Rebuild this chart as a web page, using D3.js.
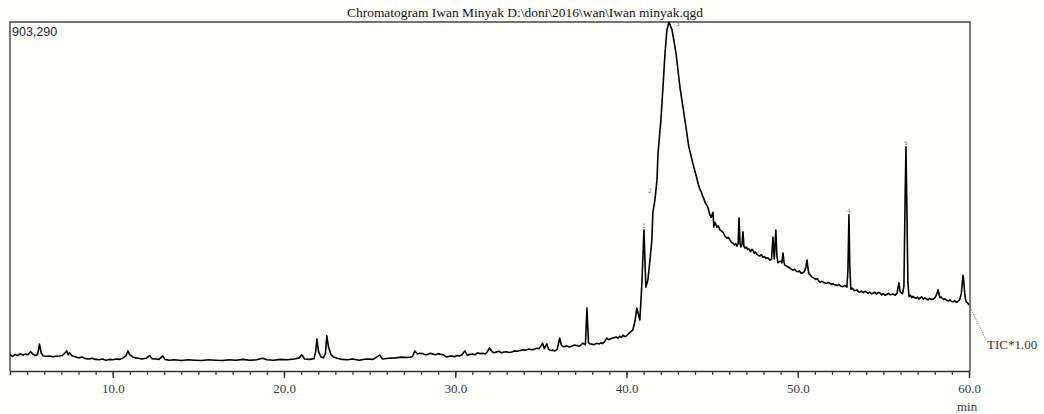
<!DOCTYPE html>
<html>
<head>
<meta charset="utf-8">
<script src="https://cdn.jsdelivr.net/npm/d3@7"></script>
<style>
  body { margin: 0; background: #fffffc; }
  svg { display: block; }
</style>
</head>
<body>
<svg id="chart" width="1044" height="414"></svg>
<script>
// TIC trace: [retention time (min), intensity]
const ticPoints = [
  [4.0,42000],[4.15,38000],[4.3,43000],[4.45,40000],[4.6,45000],[4.75,41000],[4.9,44000],[5.05,42000],
  [5.2,50000],[5.35,43000],[5.5,40000],[5.62,44000],[5.72,70000],[5.82,46000],[5.95,39000],[6.1,38000],
  [6.3,39000],[6.5,37000],[6.7,38000],[6.9,39000],[7.05,40000],[7.2,46000],[7.31,52000],[7.4,42000],
  [7.49,47000],[7.6,40000],[7.8,37000],[8.0,34000],[8.2,36000],[8.4,32000],[8.6,31000],[8.8,33000],
  [9.0,30000],[9.2,29000],[9.4,31000],[9.6,28000],[9.8,30000],[10.0,29000],[10.2,31000],[10.4,30000],
  [10.6,34000],[10.78,40000],[10.88,52000],[11.0,42000],[11.15,37000],[11.3,34000],[11.5,33000],[11.7,31000],
  [11.95,33000],[12.16,40000],[12.3,32000],[12.5,31000],[12.7,30000],[12.92,39000],[13.05,30000],[13.3,28000],
  [13.6,29000],[14.0,27000],[14.4,29000],[14.8,28000],[15.2,27000],[15.6,29000],[16.0,28000],[16.4,27000],
  [16.8,29000],[17.2,28000],[17.6,30000],[18.0,28000],[18.4,29000],[18.75,33000],[19.0,29000],[19.4,28000],
  [19.8,30000],[20.2,29000],[20.6,31000],[20.9,34000],[21.04,42000],[21.2,31000],[21.5,30000],[21.75,32000],
  [21.85,50000],[21.92,83000],[22.02,50000],[22.15,37000],[22.3,34000],[22.42,45000],[22.5,91000],[22.6,62000],
  [22.75,42000],[22.9,36000],[23.1,33000],[23.4,30000],[23.7,29000],[24.0,31000],[24.4,28000],[24.8,31000],
  [25.2,30000],[25.6,41000],[25.75,31000],[26.1,33000],[26.5,34000],[26.9,36000],[27.2,35000],[27.5,37000],
  [27.64,52000],[27.8,44000],[27.95,46000],[28.1,45000],[28.25,42000],[28.4,43000],[28.55,46000],[28.7,44000],
  [28.85,42000],[29.0,45000],[29.15,43000],[29.3,42000],[29.5,36000],[29.65,38000],[29.8,39000],[29.95,37000],
  [30.1,40000],[30.25,39000],[30.4,42000],[30.56,52000],[30.7,41000],[30.85,43000],[31.0,44000],[31.15,42000],
  [31.3,47000],[31.45,45000],[31.6,46000],[31.75,44000],[31.85,48000],[32.0,60000],[32.15,50000],[32.28,47000],
  [32.4,49000],[32.55,51000],[32.7,47000],[32.85,49000],[33.0,50000],[33.15,48000],[33.3,49000],[33.45,52000],
  [33.6,51000],[33.8,53000],[33.95,55000],[34.1,54000],[34.3,57000],[34.45,55000],[34.6,56000],[34.75,59000],
  [34.9,58000],[35.1,72000],[35.2,58000],[35.35,70000],[35.45,56000],[35.58,53000],[35.7,54000],[35.82,52000],
  [35.95,56000],[36.1,85000],[36.2,66000],[36.35,63000],[36.5,65000],[36.65,62000],[36.8,64000],[36.95,67000],
  [37.1,66000],[37.25,64000],[37.35,68000],[37.45,72000],[37.6,68000],[37.69,163000],[37.78,74000],[37.86,70000],
  [37.95,70000],[38.1,68000],[38.25,72000],[38.4,70000],[38.5,73000],[38.6,71000],[38.72,76000],[38.85,85000],
  [38.97,81000],[39.1,84000],[39.25,86000],[39.4,88000],[39.5,85000],[39.6,90000],[39.7,87000],[39.8,93000],
  [39.9,89000],[40.0,91000],[40.1,96000],[40.2,100000],[40.37,106000],[40.5,130000],[40.6,163000],[40.78,132000],
  [40.9,228000],[41.02,365000],[41.13,217000],[41.25,236000],[41.37,287000],[41.48,339000],[41.54,409000],[41.66,443000],
  [41.78,494000],[41.84,564000],[42.01,650000],[42.13,735000],[42.25,823000],[42.36,883000],[42.48,903290],[42.66,883000],
  [42.89,823000],[43.12,735000],[43.41,650000],[43.64,580000],[43.87,538000],[44.1,500000],[44.2,482000],[44.29,470000],
  [44.38,462000],[44.45,452000],[44.52,446000],[44.58,437000],[44.66,431000],[44.75,424000],[44.81,414000],[44.87,404000],
  [44.95,398000],[45.05,411000],[45.1,373000],[45.15,385000],[45.2,382000],[45.28,372000],[45.36,376000],[45.46,365000],
  [45.55,362000],[45.65,358000],[45.75,349000],[45.86,344000],[45.95,346000],[46.05,338000],[46.13,333000],[46.21,331000],
  [46.3,326000],[46.38,330000],[46.45,323000],[46.52,330000],[46.57,396000],[46.63,330000],[46.68,321000],[46.74,326000],
  [46.8,360000],[46.86,322000],[46.92,318000],[47.0,321000],[47.08,314000],[47.15,316000],[47.25,309000],[47.32,315000],
  [47.38,313000],[47.46,305000],[47.53,308000],[47.6,303000],[47.7,299000],[47.79,298000],[47.88,301000],[47.97,294000],
  [48.05,296000],[48.15,291000],[48.25,293000],[48.38,287000],[48.47,290000],[48.55,347000],[48.63,290000],[48.72,365000],
  [48.78,300000],[48.84,280000],[48.92,283000],[49.0,284000],[49.07,280000],[49.14,305000],[49.2,281000],[49.25,274000],
  [49.33,272000],[49.42,270000],[49.5,268000],[49.6,264000],[49.72,261000],[49.82,263000],[49.92,258000],[50.0,257000],
  [50.1,259000],[50.2,253000],[50.3,254000],[50.4,259000],[50.48,270000],[50.54,287000],[50.6,265000],[50.65,252000],
  [50.75,247000],[50.83,243000],[50.93,241000],[51.05,237000],[51.15,239000],[51.22,233000],[51.3,230000],[51.42,232000],
  [51.55,228000],[51.7,227000],[51.82,229000],[51.95,224000],[52.05,226000],[52.17,223000],[52.3,221000],[52.4,224000],
  [52.5,220000],[52.62,218000],[52.75,221000],[52.87,217000],[52.93,260000],[52.99,404000],[53.04,270000],[53.1,212000],
  [53.2,214000],[53.28,209000],[53.35,208000],[53.45,210000],[53.55,205000],[53.63,204000],[53.72,207000],[53.83,203000],
  [53.92,206000],[54.0,205000],[54.1,201000],[54.2,204000],[54.3,200000],[54.4,201000],[54.5,204000],[54.6,199000],
  [54.7,203000],[54.8,202000],[54.9,197000],[55.0,200000],[55.1,196000],[55.2,198000],[55.3,201000],[55.4,197000],
  [55.5,199000],[55.56,199000],[55.7,196000],[55.8,202000],[55.91,228000],[55.98,205000],[56.05,202000],[56.12,200000],
  [56.2,220000],[56.27,450000],[56.32,580000],[56.37,430000],[56.43,230000],[56.5,192000],[56.58,196000],[56.66,190000],
  [56.73,193000],[56.8,190000],[56.9,188000],[57.0,191000],[57.08,186000],[57.14,189000],[57.24,192000],[57.33,186000],
  [57.42,189000],[57.5,187000],[57.6,184000],[57.7,188000],[57.8,185000],[57.9,186000],[57.98,188000],[58.05,192000],
  [58.12,200000],[58.2,210000],[58.26,196000],[58.3,190000],[58.36,192000],[58.42,189000],[58.52,185000],[58.6,187000],
  [58.7,183000],[58.8,181000],[58.9,184000],[58.98,180000],[59.07,179000],[59.15,182000],[59.25,178000],[59.35,180000],
  [59.45,184000],[59.55,200000],[59.65,248000],[59.7,230000],[59.75,200000],[59.8,185000],[59.84,179000],[59.92,176000],
  [60.0,171000]
];

const peakMarks = [
  { t: 41.02, v: 365000, label: "1" },
  { t: 41.54, v: 409000, label: "2" },
  { t: 42.48, v: 903290, label: "3" },
  { t: 52.99, v: 404000, label: "4" },
  { t: 56.32, v: 580000, label: "5" }
];

const majorTicks = [10, 20, 30, 40, 50, 60];
const maxIntensity = 903290;
const titleText = "Chromatogram Iwan Minyak D:\\doni\\2016\\wan\\Iwan minyak.qgd";
const serif = "'Liberation Serif', 'Times New Roman', serif";

const svg = d3.select("#chart");
const plotLeft = 10, plotRight = 969, plotTop = 22, plotBottom = 371;

const x = d3.scaleLinear().domain([4, 60]).range([plotLeft, plotRight]);
const y = d3.scaleLinear().domain([0, maxIntensity]).range([plotBottom, plotTop]);

// title
svg.append("text")
  .attr("x", 347)
  .attr("y", 17)
  .attr("textLength", 356)
  .attr("lengthAdjust", "spacingAndGlyphs")
  .style("font-family", serif)
  .style("font-size", "13px")
  .attr("fill", "#111")
  .text(titleText);

// frame: top, left, right
svg.append("path")
  .attr("d", `M${plotLeft},${plotBottom}V${plotTop}H${plotRight + 1}V${plotBottom}`)
  .attr("fill", "none")
  .attr("stroke", "#444")
  .attr("stroke-width", 1.4);

svg.append("text")
  .attr("x", 12)
  .attr("y", 36)
  .style("font-family", "'Liberation Sans', sans-serif")
  .style("font-size", "12.5px")
  .attr("fill", "#1c1c3a")
  .text("903,290");

// bottom axis, minor ticks every minute, majors with labels
const minorAxis = svg.append("g")
  .attr("transform", `translate(0,${plotBottom})`)
  .call(d3.axisBottom(x).tickValues(d3.range(5, 60)).tickSize(4).tickFormat(""));
minorAxis.select(".domain").attr("stroke", "#333").attr("stroke-width", 1.4);
minorAxis.selectAll(".tick line").attr("stroke", "#333").attr("stroke-width", 1.2);

const majorAxis = svg.append("g")
  .attr("transform", `translate(0,${plotBottom})`)
  .call(d3.axisBottom(x).tickValues(majorTicks).tickSize(7).tickPadding(6).tickFormat(d3.format(".1f")));
majorAxis.select(".domain").remove();
majorAxis.selectAll(".tick line").attr("stroke", "#333").attr("stroke-width", 1.4);
majorAxis.selectAll(".tick text")
  .style("font-family", serif)
  .style("font-size", "13px")
  .attr("fill", "#3a3a3a");

svg.append("text")
  .attr("x", x(60) - 12)
  .attr("y", 411)
  .style("font-family", serif)
  .style("font-size", "13px")
  .attr("fill", "#3a3a3a")
  .text("min");

// trace
const line = d3.line()
  .x((d) => x(d[0]))
  .y((d) => y(d[1]));

svg.append("path")
  .datum(ticPoints)
  .attr("d", line)
  .attr("fill", "none")
  .attr("stroke", "#000")
  .attr("stroke-width", 1.6)
  .attr("stroke-linejoin", "round");

// tiny peak number marks
svg.append("g")
  .selectAll("text")
  .data(peakMarks)
  .join("text")
  .attr("x", (d) => x(d.t) + (d.label === "3" ? 9 : d.label === "2" ? -3 : 0))
  .attr("y", (d) => y(d.v) - (d.label === "2" ? 20 : 2) + (d.label === "3" ? 6 : 0))
  .attr("text-anchor", "middle")
  .style("font-family", "'DejaVu Sans', sans-serif")
  .style("font-size", "6px")
  .attr("fill", "#6f7fa8")
  .text((d) => d.label);

// TIC label with dotted leader
const lastPt = ticPoints[ticPoints.length - 1];
svg.append("line")
  .attr("x1", x(lastPt[0]))
  .attr("y1", y(lastPt[1]))
  .attr("x2", 986)
  .attr("y2", 340)
  .attr("stroke", "#666")
  .attr("stroke-width", 0.8)
  .attr("stroke-dasharray", "1.5,1");

svg.append("text")
  .attr("x", 987)
  .attr("y", 349)
  .style("font-family", serif)
  .style("font-size", "13px")
  .attr("fill", "#3a3a3a")
  .text("TIC*1.00");
</script>
</body>
</html>
